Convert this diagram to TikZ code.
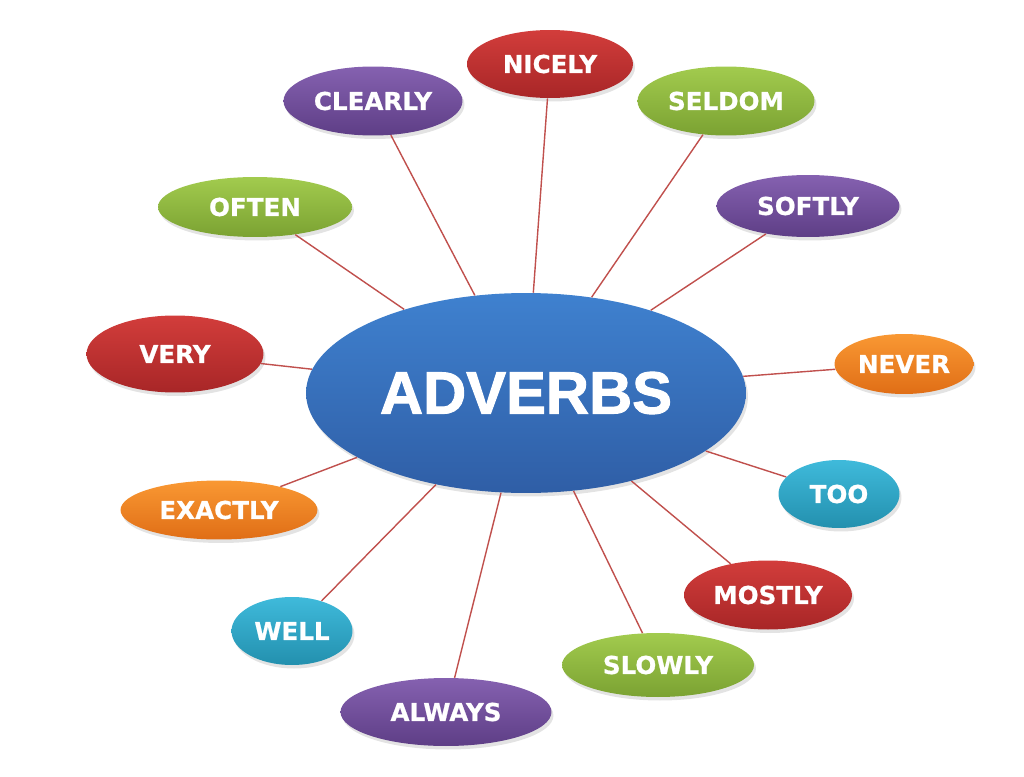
\documentclass[tikz,border=0pt]{standalone}
\usepackage{fontspec}
\setmainfont[BoldFeatures={FakeBold=0.8}]{DejaVu Sans}
\newfontfamily\bigfont[BoldFeatures={FakeBold=1.6}]{Liberation Sans}
\usetikzlibrary{shapes.geometric, shadows}
\definecolor{blueTop}{HTML}{3F81CF}
\definecolor{blueBot}{HTML}{2F5EA6}
\definecolor{redTop}{HTML}{D23D3B}
\definecolor{redBot}{HTML}{A82627}
\definecolor{purpleTop}{HTML}{8561B0}
\definecolor{purpleBot}{HTML}{5E3E86}
\definecolor{greenTop}{HTML}{A2CB4E}
\definecolor{greenBot}{HTML}{7BA232}
\definecolor{orangeTop}{HTML}{F99833}
\definecolor{orangeBot}{HTML}{E06E16}
\definecolor{tealTop}{HTML}{3FBADB}
\definecolor{tealBot}{HTML}{2390AE}
\definecolor{linkRed}{HTML}{C0504D}
\tikzstyle{myBubble} = [ellipse, inner sep=0pt, text=white, font=\bfseries\fontsize{14}{14}\selectfont, drop shadow={opacity=0.22, shadow xshift=0.04cm, shadow yshift=-0.07cm}]
\tikzstyle{redBubble} = [myBubble, top color=redTop, bottom color=redBot]
\tikzstyle{purpleBubble} = [myBubble, top color=purpleTop, bottom color=purpleBot]
\tikzstyle{greenBubble} = [myBubble, top color=greenTop, bottom color=greenBot]
\tikzstyle{orangeBubble} = [myBubble, top color=orangeTop, bottom color=orangeBot]
\tikzstyle{tealBubble} = [myBubble, top color=tealTop, bottom color=tealBot]
\tikzstyle{myLink} = [draw=linkRed, line width=0.8pt]

\begin{document}
\begin{tikzpicture}[x=0.02cm, y=-0.02cm]
		\useasboundingbox (0,0) rectangle (1024,777);
		% centre
		\node [myBubble, top color=blueTop, bottom color=blueBot, minimum width=8.8cm, minimum height=4cm, font=\bigfont\bfseries\fontsize{34}{34}\selectfont](adv) at (526,393){ADVERBS};
		% top half
		\node [redBubble, minimum width=3.32cm, minimum height=1.36cm](nicely) at (550,64){NICELY};
		\node [purpleBubble, minimum width=3.58cm, minimum height=1.38cm](clearly) at (373,101){CLEARLY};
		\node [greenBubble, minimum width=3.54cm, minimum height=1.38cm](seldom) at (726,101){SELDOM};
		\node [greenBubble, minimum width=3.88cm, minimum height=1.2cm](often) at (255,207){OFTEN};
		\node [purpleBubble, minimum width=3.66cm, minimum height=1.24cm](softly) at (808,206){SOFTLY};
		\node [redBubble, minimum width=3.54cm, minimum height=1.54cm](very) at (175,354){VERY};
		\node [orangeBubble, minimum width=2.78cm, minimum height=1.2cm](never) at (904,364){NEVER};
		% bottom half
		\node [orangeBubble, minimum width=3.94cm, minimum height=1.18cm](exactly) at (219,510){EXACTLY};
		\node [tealBubble, minimum width=2.42cm, minimum height=1.36cm](too) at (839,494){TOO};
		\node [tealBubble, minimum width=2.42cm, minimum height=1.36cm](well) at (292,631){WELL};
		\node [redBubble, minimum width=3.36cm, minimum height=1.38cm](mostly) at (768,595){MOSTLY};
		\node [greenBubble, minimum width=3.84cm, minimum height=1.28cm](slowly) at (658,665){SLOWLY};
		\node [purpleBubble, minimum width=4.22cm, minimum height=1.36cm](always) at (446,712){ALWAYS};
		% links
		\draw [myLink] (adv) -- (nicely);
		\draw [myLink] (adv) -- (clearly);
		\draw [myLink] (adv) -- (seldom);
		\draw [myLink] (adv) -- (often);
		\draw [myLink] (adv) -- (softly);
		\draw [myLink] (adv) -- (very);
		\draw [myLink] (adv) -- (never);
		\draw [myLink] (adv) -- (exactly);
		\draw [myLink] (adv) -- (too);
		\draw [myLink] (adv) -- (well);
		\draw [myLink] (adv) -- (mostly);
		\draw [myLink] (adv) -- (slowly);
		\draw [myLink] (adv) -- (always);
\end{tikzpicture}
\end{document}
